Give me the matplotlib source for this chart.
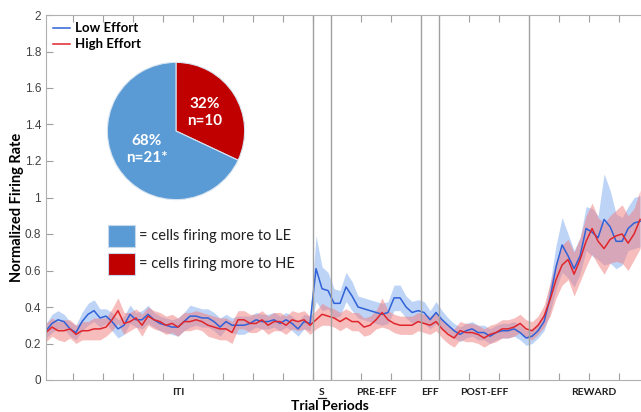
import matplotlib

matplotlib.use("Agg")
import matplotlib.pyplot as plt  # noqa: E402
import numpy as np  # noqa: E402
from matplotlib.patches import Rectangle  # noqa: E402

# time axis: one unit per tick spacing, sampled every 0.2 units
t = np.arange(100) * 0.2 + 0.1

low_effort = [
    0.27, 0.31, 0.33, 0.32, 0.28, 0.26, 0.32, 0.36, 0.38, 0.34,
    0.35, 0.32, 0.28, 0.30, 0.36, 0.33, 0.33, 0.36, 0.33, 0.31,
    0.30, 0.29, 0.29, 0.32, 0.35, 0.35, 0.34, 0.34, 0.32, 0.29,
    0.32, 0.30, 0.30, 0.30, 0.31, 0.33, 0.32, 0.32, 0.33, 0.31,
    0.33, 0.31, 0.28, 0.32, 0.31, 0.61, 0.50, 0.49, 0.42, 0.42,
    0.51, 0.46, 0.40, 0.39, 0.38, 0.37, 0.36, 0.37, 0.45, 0.45,
    0.40, 0.37, 0.38, 0.37, 0.33, 0.37, 0.33, 0.30, 0.27, 0.25,
    0.27, 0.28, 0.26, 0.26, 0.24, 0.26, 0.27, 0.27, 0.28, 0.26,
    0.23, 0.24, 0.27, 0.32, 0.45, 0.62, 0.74, 0.68, 0.61, 0.68,
    0.83, 0.81, 0.78, 0.88, 0.84, 0.76, 0.76, 0.83, 0.86, 0.87,
]
low_sem = [
    0.04, 0.05, 0.05, 0.04, 0.04, 0.04, 0.05, 0.06, 0.06, 0.05,
    0.04, 0.05, 0.05, 0.05, 0.05, 0.04, 0.05, 0.05, 0.04, 0.04,
    0.04, 0.04, 0.05, 0.05, 0.06, 0.05, 0.05, 0.05, 0.05, 0.05,
    0.04, 0.04, 0.05, 0.05, 0.04, 0.04, 0.04, 0.04, 0.04, 0.04,
    0.04, 0.04, 0.04, 0.04, 0.04, 0.18, 0.12, 0.10, 0.08, 0.07,
    0.08, 0.08, 0.06, 0.06, 0.06, 0.06, 0.06, 0.06, 0.07, 0.07,
    0.06, 0.06, 0.06, 0.06, 0.05, 0.06, 0.05, 0.04, 0.04, 0.04,
    0.04, 0.04, 0.04, 0.04, 0.04, 0.04, 0.04, 0.04, 0.04, 0.04,
    0.04, 0.04, 0.04, 0.05, 0.08, 0.12, 0.15, 0.12, 0.10, 0.10,
    0.12, 0.13, 0.12, 0.25, 0.20, 0.15, 0.13, 0.12, 0.14, 0.14,
]
high_effort = [
    0.26, 0.29, 0.27, 0.27, 0.28, 0.25, 0.27, 0.27, 0.28, 0.28,
    0.29, 0.33, 0.38, 0.31, 0.32, 0.34, 0.30, 0.35, 0.33, 0.32,
    0.30, 0.31, 0.29, 0.32, 0.32, 0.33, 0.32, 0.30, 0.29, 0.28,
    0.28, 0.26, 0.33, 0.33, 0.31, 0.31, 0.33, 0.30, 0.32, 0.32,
    0.30, 0.33, 0.32, 0.33, 0.30, 0.33, 0.36, 0.35, 0.34, 0.32,
    0.34, 0.32, 0.32, 0.29, 0.30, 0.33, 0.37, 0.33, 0.31, 0.30,
    0.30, 0.30, 0.32, 0.31, 0.30, 0.32, 0.28, 0.25, 0.23, 0.27,
    0.26, 0.26, 0.25, 0.23, 0.25, 0.26, 0.28, 0.28, 0.29, 0.31,
    0.28, 0.27, 0.30, 0.35, 0.44, 0.55, 0.63, 0.66, 0.58, 0.66,
    0.76, 0.83, 0.76, 0.72, 0.77, 0.79, 0.80, 0.75, 0.80, 0.88,
]
high_sem = [
    0.05, 0.05, 0.05, 0.06, 0.05, 0.05, 0.05, 0.05, 0.06, 0.06,
    0.05, 0.06, 0.07, 0.06, 0.05, 0.05, 0.06, 0.05, 0.05, 0.05,
    0.05, 0.05, 0.05, 0.05, 0.05, 0.05, 0.05, 0.06, 0.06, 0.06,
    0.06, 0.06, 0.05, 0.05, 0.05, 0.05, 0.05, 0.05, 0.05, 0.05,
    0.05, 0.05, 0.05, 0.05, 0.05, 0.05, 0.06, 0.05, 0.05, 0.05,
    0.05, 0.05, 0.05, 0.05, 0.05, 0.05, 0.08, 0.05, 0.05, 0.05,
    0.05, 0.05, 0.05, 0.05, 0.05, 0.05, 0.05, 0.05, 0.05, 0.05,
    0.05, 0.05, 0.05, 0.05, 0.05, 0.05, 0.05, 0.05, 0.05, 0.05,
    0.05, 0.05, 0.05, 0.06, 0.09, 0.10, 0.11, 0.11, 0.12, 0.12,
    0.14, 0.14, 0.13, 0.14, 0.13, 0.14, 0.16, 0.15, 0.14, 0.16,
]

boundaries = [9.0, 9.6, 12.6, 13.2, 16.2]
tick_pos = [1, 2, 3, 4, 5, 6, 7, 8, 9, 10.6, 11.6, 14.2, 15.2, 17.2, 18.2, 19.2]
period_names = ["ITI", "S", "PRE-EFF", "EFF", "POST-EFF", "REWARD"]
period_centers = [4.5, 9.3, 11.1, 12.9, 14.7, 18.35]

pie_labels = ["32%\nn=10", "68%\nn=21*"]
pie_shares = [32, 68]

BLUE = "#2f62d8"
RED = "#e0262c"
PIE_BLUE = "#5b9bd5"
PIE_RED = "#c00000"
FONT = "Lato"

fig = plt.figure(figsize=(6.41, 4.12), dpi=100)
ax = fig.add_axes([46 / 641, 32 / 412, 595 / 641, 365 / 412])

lo = np.array(low_effort)
hi = np.array(high_effort)
ax.fill_between(t, lo - np.array(low_sem), lo + np.array(low_sem),
                color="#7eaaf0", alpha=0.5, linewidth=0)
ax.fill_between(t, hi - np.array(high_sem), hi + np.array(high_sem),
                color="#f07a7a", alpha=0.5, linewidth=0)
ax.plot(t, lo, color=BLUE, linewidth=1.1, label="Low Effort")
ax.plot(t, hi, color=RED, linewidth=1.1, label="High Effort")

for b in boundaries:
    ax.axvline(b, color="#a0a0a0", linewidth=1.0)

ax.set_xlim(0.1, 19.93)
ax.set_ylim(0, 2)
ax.set_yticks(np.arange(0, 2.01, 0.2))
ax.set_yticklabels(["0", "0.2", "0.4", "0.6", "0.8", "1", "1.2", "1.4", "1.6", "1.8", "2"],
                   family="Liberation Sans")
ax.set_xticks(tick_pos)
ax.set_xticklabels([])
ax.tick_params(direction="in", length=5, width=0.8, color="#a0a0a0",
               top=True, labelsize=8.5, labelcolor="#404040")
for side in ["left", "bottom", "top"]:
    ax.spines[side].set_color("#b0b0b0")
ax.spines["right"].set_visible(False)

for name, cx in zip(period_names, period_centers):
    ax.text(cx, -0.067, name, ha="center", va="center", fontsize=7.5,
            fontweight="bold", color="#202020", family=FONT)
ax.plot([9.18, 9.42], [-0.096, -0.096], color="#202020", linewidth=0.9, clip_on=False)

fig.text(330 / 641, 2.5 / 412, "Trial Periods", ha="center", va="baseline",
         fontsize=10, fontweight="bold", family=FONT)
fig.text(17 / 641, 1 - 207 / 412, "Normalized Firing Rate", ha="center", va="center",
         rotation=90, fontsize=10.5, fontweight="bold", family=FONT)

leg = ax.legend(loc="upper left", bbox_to_anchor=(0.0, 1.0), frameon=False,
                handlelength=1.3, handletextpad=0.35, labelspacing=0.3,
                borderaxespad=0.15, prop={"family": FONT, "weight": "bold", "size": 9.5})

# pie inset
pax = fig.add_axes([(176 - 70) / 641, 1 - (131 + 70) / 412, 140 / 641, 140 / 412])
wedges, texts = pax.pie(pie_shares, colors=[PIE_RED, PIE_BLUE], startangle=90,
                        counterclock=False, labels=pie_labels, labeldistance=0.5,
                        wedgeprops={"edgecolor": "#d8e4f0", "linewidth": 0.8})
for txt in texts:
    txt.set_color("white")
    txt.set_fontweight("bold")
    txt.set_fontsize(11)
    txt.set_family(FONT)
    txt.set_ha("center")
    txt.set_va("center")
    txt.set_linespacing(1.25)
pax.set_xlim(-1.02, 1.02)
pax.set_ylim(-1.02, 1.02)
pax.set_aspect("equal")

# colour key for the pie
key_items = [(PIE_BLUE, "= cells firing more to LE", 225),
             (PIE_RED, "= cells firing more to HE", 253)]
for color, label, ytop in key_items:
    fig.patches.append(Rectangle((108 / 641, 1 - (ytop + 22) / 412), 27 / 641, 22 / 412,
                                 transform=fig.transFigure, facecolor=color,
                                 edgecolor="#c8d8ec", linewidth=0.8))
    fig.text(139 / 641, 1 - (ytop + 11) / 412, label, ha="left", va="center",
             fontsize=10.5, color="#202020", family=FONT)

fig.savefig("out.png", dpi=100)
plt.close(fig)
